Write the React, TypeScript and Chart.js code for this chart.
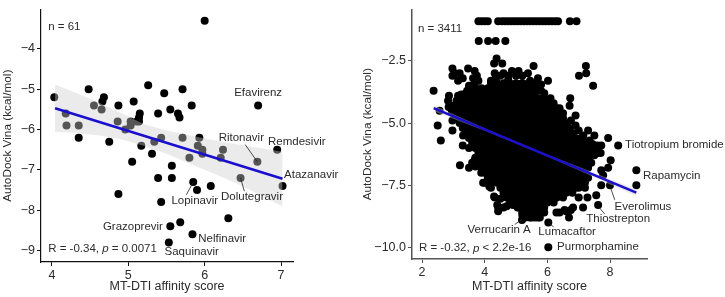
import React, { useEffect, useRef } from "react";
import { Chart, registerables } from "chart.js";

Chart.register(...registerables);

const FONT = "'Liberation Sans', Arial, sans-serif";
const TEXT = "#2b2b2b";

// Left panel
const leftX = [6.0,4.03,4.18,4.19,4.35,4.35,4.48,4.55,4.65,4.68,4.66,4.75,4.87,4.86,4.96,5.03,5.03,5.07,5.11,5.14,5.15,5.17,5.26,5.34,5.43,5.39,5.47,5.55,5.65,5.67,5.71,5.71,5.83,5.93,5.91,5.97,6.24,6.7,6.95,5.31,5.05,5.8,5.97,6.21,6.69,5.57,5.39,5.57,5.85,5.9,6.08,6.47,7.02,4.87,5.43,6.31,5.68,5.55,5.84,5.53,5.14];
const leftY = [-3.3,-5.2,-5.6,-5.9,-5.9,-6.2,-5.0,-5.4,-5.5,-5.2,-5.3,-6.3,-5.4,-5.8,-6.0,-5.9,-5.8,-5.3,-5.8,-5.7,-5.6,-6.4,-4.9,-6.3,-6.2,-5.6,-5.1,-5.5,-5.6,-5.7,-5.0,-6.2,-5.4,-6.2,-6.4,-6.5,-6.5,-5.4,-6.5,-6.6,-6.8,-6.7,-6.6,-6.7,-6.8,-6.9,-7.2,-7.2,-7.3,-7.5,-7.4,-7.2,-7.4,-7.6,-7.8,-8.2,-8.3,-8.4,-8.6,-8.8,-5.8];
const leftBandX = [4.04,4.3,4.6,4.9,5.2,5.5,5.8,6.1,6.4,6.7,7.02];
const leftBandUpper = [-4.88,-5.08,-5.32,-5.58,-5.86,-6.02,-6.14,-6.26,-6.36,-6.45,-6.55];
const leftBandLower = [-6.06,-6.08,-6.14,-6.24,-6.4,-6.6,-6.84,-7.08,-7.32,-7.6,-7.9];
const leftFitX = [4.04,7.02];
const leftFitY = [-5.47,-7.22];
const leftXTicks = [4,5,6,7];
const leftYTicks = [-9,-8,-7,-6,-5,-4];
const leftLabels = [
  { t: "Efavirenz", x: 6.7, y: -5.1, a: "center" },
  { t: "Ritonavir", x: 6.48, y: -6.2, a: "center" },
  { t: "Remdesivir", x: 6.83, y: -6.3, a: "left" },
  { t: "Atazanavir", x: 7.04, y: -7.13, a: "left" },
  { t: "Dolutegravir", x: 6.62, y: -7.67, a: "center" },
  { t: "Lopinavir", x: 5.87, y: -7.77, a: "center" },
  { t: "Grazoprevir", x: 5.06, y: -8.41, a: "center" },
  { t: "Nelfinavir", x: 6.23, y: -8.7, a: "center" },
  { t: "Saquinavir", x: 5.83, y: -9.04, a: "center" },
  { t: "n = 61", x: 3.95, y: -3.44, a: "left" },
];
const leftLeaders = [
  [6.53,-6.37,6.69,-6.8],
  [5.76,-7.62,5.85,-7.3],
  [6.52,-7.53,6.47,-7.2],
];

// Right panel: points (the dense centre is read as rows)
const rightX = [3.8,3.9,4.0,4.1,4.43,4.55,4.65,4.75,4.85,4.95,5.05,5.15,5.25,5.35,5.45,5.55,5.65,5.75,5.85,5.95,6.05,6.15,6.25,6.34,6.72,6.93,3.81,4.11,4.35,4.66,4.38,4.3,4.56,5.56,7.23,7.24,7.01,7.46,2.37,2.97,3.2,2.97,3.15,3.47,3.68,3.63,3.8,3.68,4.32,4.2,4.6,4.87,5.08,5.38,5.7,6.02,5.8,5.8,5.2,4.75,2.86,2.83,3.1,3.44,6.73,6.71,6.9,6.39,6.07,5.86,5.6,2.5,2.6,2.97,2.97,3.3,3.31,2.56,2.95,3.2,7.94,8.26,7.72,7.6,7.3,7.5,7.1,6.9,6.5,3.21,3.5,3.68,8.02,7.94,7.72,7.78,8.84,8.84,7.72,8.0,7.56,7.62,7.28,7.14,6.69,6.29,6.39,6.6,6.82,6.03,6.03,5.19,4.43,4.43,4.32,4.0,4.2,3.89,5.44,5.76,5.9,4.6,5.05,7.4,7.6];
const rightY = [-0.9,-0.9,-0.9,-0.9,-0.9,-0.9,-0.9,-0.9,-0.9,-0.9,-0.9,-0.9,-0.9,-0.9,-0.9,-0.9,-0.9,-0.9,-0.9,-0.9,-0.9,-0.9,-0.9,-0.9,-0.9,-0.9,-1.7,-1.7,-1.7,-1.7,-2.4,-2.6,-2.6,-2.7,-2.7,-3.0,-3.1,-3.5,-3.7,-2.8,-3.0,-3.1,-3.3,-2.8,-2.9,-3.2,-3.3,-3.4,-3.0,-3.3,-3.0,-2.9,-2.9,-3.0,-3.2,-3.3,-3.45,-3.7,-3.4,-3.1,-3.9,-4.1,-4.1,-3.7,-4.0,-4.3,-4.7,-4.4,-4.3,-4.2,-4.2,-5.1,-5.7,-4.9,-5.3,-5.9,-5.5,-4.5,-4.5,-4.6,-5.6,-5.9,-5.9,-5.9,-5.3,-5.5,-5.6,-5.1,-5.2,-6.7,-6.8,-6.5,-6.5,-6.8,-6.9,-7.1,-6.9,-7.5,-7.5,-7.5,-7.9,-8.3,-8.0,-8.4,-8.8,-8.6,-8.6,-8.55,-8.4,-9.0,-10.0,-8.9,-8.55,-8.4,-8.0,-7.4,-7.6,-7.0,-8.8,-8.8,-8.6,-8.4,-8.4,-6.1,-6.2];
const rimX = [3.05,3.3,3.75,4.35,4.5,4.75,5.0,5.2,5.45,5.6,5.65,3.5,3.15,3.0,2.85,3.25,6.5,6.75,6.65,7.0,7.15,7.35,7.1,7.45,7.55,7.5,7.7,3.85,3.7,3.95,4.15,4.3,4.5,4.4,4.7,4.9,5.2,5.25,5.6,6.55,6.75,7.0,7.2];
const rimY = [-3.0,-3.2,-3.1,-3.2,-3.1,-3.25,-3.1,-3.1,-3.3,-3.4,-3.6,-3.5,-3.9,-4.3,-4.35,-3.85,-4.6,-4.9,-5.4,-5.3,-5.5,-5.7,-5.8,-5.85,-6.05,-6.3,-6.2,-6.6,-6.75,-7.4,-7.55,-7.95,-8.05,-8.3,-8.35,-8.3,-8.7,-8.55,-8.8,-8.5,-8.5,-8.0,-7.6];
const cloudRows: [number, number[]][] = [
  [-3.4,[4.2,4.4,4.6,4.8,5.0,5.2,5.4]],
  [-3.6,[3.5,3.7,3.9,4.1,4.3,4.5,4.7,4.9,5.1,5.3,5.5,5.7]],
  [-3.8,[3.4,3.6,3.8,4.0,4.2,4.4,4.6,4.8,5.0,5.2,5.4,5.6,5.9]],
  [-4.0,[3.3,3.5,3.7,3.9,4.1,4.3,4.5,4.7,4.9,5.1,5.3,5.5,5.7,5.9,6.1]],
  [-4.2,[3.2,3.4,3.6,3.8,4.0,4.2,4.4,4.6,4.8,5.0,5.2,5.4,5.6,5.8,6.0,6.2]],
  [-4.4,[3.1,3.3,3.5,3.7,3.9,4.1,4.3,4.5,4.7,4.9,5.1,5.3,5.5,5.7,5.9,6.1,6.3]],
  [-4.6,[3.0,3.2,3.4,3.6,3.8,4.0,4.2,4.4,4.6,4.8,5.0,5.2,5.4,5.6,5.8,6.0,6.2,6.4]],
  [-4.8,[3.1,3.3,3.5,3.7,3.9,4.1,4.3,4.5,4.7,4.9,5.1,5.3,5.5,5.7,5.9,6.1,6.3,6.5]],
  [-5.0,[3.2,3.4,3.6,3.8,4.0,4.2,4.4,4.6,4.8,5.0,5.2,5.4,5.6,5.8,6.0,6.2,6.4,6.6]],
  [-5.2,[3.3,3.5,3.7,3.9,4.1,4.3,4.5,4.7,4.9,5.1,5.3,5.5,5.7,5.9,6.1,6.3,6.5,6.7]],
  [-5.4,[3.4,3.6,3.8,4.0,4.2,4.4,4.6,4.8,5.0,5.2,5.4,5.6,5.8,6.0,6.2,6.4,6.6,6.8]],
  [-5.6,[3.5,3.7,3.9,4.1,4.3,4.5,4.7,4.9,5.1,5.3,5.5,5.7,5.9,6.1,6.3,6.5,6.7,6.9,7.1]],
  [-5.8,[3.6,3.8,4.0,4.2,4.4,4.6,4.8,5.0,5.2,5.4,5.6,5.8,6.0,6.2,6.4,6.6,6.8,7.0,7.2]],
  [-6.0,[3.5,3.7,3.9,4.1,4.3,4.5,4.7,4.9,5.1,5.3,5.5,5.7,5.9,6.1,6.3,6.5,6.7,6.9,7.1,7.3]],
  [-6.2,[3.8,4.0,4.2,4.4,4.6,4.8,5.0,5.2,5.4,5.6,5.8,6.0,6.2,6.4,6.6,6.8,7.0,7.2,7.4]],
  [-6.4,[3.7,3.9,4.1,4.3,4.5,4.7,4.9,5.1,5.3,5.5,5.7,5.9,6.1,6.3,6.5,6.7,6.9,7.1,7.3]],
  [-6.6,[3.6,3.8,4.0,4.2,4.4,4.6,4.8,5.0,5.2,5.4,5.6,5.8,6.0,6.2,6.4,6.6,6.8,7.0,7.2,7.4]],
  [-6.8,[3.9,4.1,4.3,4.5,4.7,4.9,5.1,5.3,5.5,5.7,5.9,6.1,6.3,6.5,6.7,6.9,7.1,7.3]],
  [-7.0,[4.0,4.2,4.4,4.6,4.8,5.0,5.2,5.4,5.6,5.8,6.0,6.2,6.4,6.6,6.8,7.0,7.2]],
  [-7.2,[4.1,4.3,4.5,4.7,4.9,5.1,5.3,5.5,5.7,5.9,6.1,6.3,6.5,6.7,6.9,7.1,7.3]],
  [-7.4,[4.2,4.4,4.6,4.8,5.0,5.2,5.4,5.6,5.8,6.0,6.2,6.4,6.6,6.8,7.0,7.2]],
  [-7.6,[4.5,4.7,4.9,5.1,5.3,5.5,5.7,5.9,6.1,6.3,6.5,6.7,6.9,7.0]],
  [-7.8,[4.6,4.8,5.0,5.2,5.4,5.6,5.8,6.0,6.2,6.4,6.6,6.8]],
  [-8.0,[4.7,4.9,5.1,5.3,5.5,5.7,5.9,6.1,6.3,6.5]],
  [-8.2,[4.8,5.0,5.2,5.4,5.6,5.8,6.0,6.2]],
  [-8.4,[5.1,5.3,5.5,5.7,5.9]],
  [-8.6,[5.2,5.4,5.6,5.8]],
  [-8.8,[5.3,5.5,5.7]],
];
const rightBandX = [2.37,4,5,6,7,8.84];
const rightBandUpper = [-4.28,-5.21,-5.74,-6.27,-6.76,-7.66];
const rightBandLower = [-4.52,-5.31,-5.82,-6.35,-6.9,-7.94];
const rightFitX = [2.37,8.84];
const rightFitY = [-4.4,-7.8];
const rightXTicks = [2,4,6,8];
const rightYTicks = [-10,-7.5,-5,-2.5];
const rightLabels = [
  { t: "n = 3411", x: 1.87, y: -1.22, a: "left" },
  { t: "Tiotropium bromide", x: 8.48, y: -5.88, a: "left" },
  { t: "Rapamycin", x: 9.05, y: -7.14, a: "left" },
  { t: "Everolimus", x: 9.05, y: -8.39, a: "center" },
  { t: "Thiostrepton", x: 8.26, y: -8.86, a: "center" },
  { t: "Verrucarin A", x: 4.46, y: -9.3, a: "center" },
  { t: "Lumacaftor", x: 6.63, y: -9.37, a: "center" },
  { t: "Purmorphamine", x: 6.31, y: -10.0, a: "left" },
];
const rightLeaders = [
  [8.01,-7.57,8.15,-8.09],
  [7.65,-8.39,7.83,-8.66],
  [5.19,-8.88,4.96,-9.08],
  [6.03,-9.01,6.2,-9.18],
];

const cloudPoints = cloudRows.flatMap(([y, xs]) => xs.map((x) => ({ x, y })));
const pairs = (xs: number[], ys: number[]) => xs.map((x, i) => ({ x, y: ys[i] }));

const annotate = (
  labels: { t: string; x: number; y: number; a: string }[],
  leaders: number[][],
  stat: { x: number; y: number; before: string; after: string },
) => ({
  id: "annotate",
  afterDraw(chart: any) {
    const { ctx, scales } = chart;
    const sx = scales.x, sy = scales.y;
    ctx.save();
    ctx.strokeStyle = "#222";
    ctx.lineWidth = 0.8;
    for (const [a, b, c, d] of leaders) {
      ctx.beginPath();
      ctx.moveTo(sx.getPixelForValue(a), sy.getPixelForValue(b));
      ctx.lineTo(sx.getPixelForValue(c), sy.getPixelForValue(d));
      ctx.stroke();
    }
    ctx.fillStyle = TEXT;
    ctx.textBaseline = "middle";
    ctx.font = `11.5px ${FONT}`;
    for (const l of labels) {
      ctx.textAlign = l.a;
      ctx.fillText(l.t, sx.getPixelForValue(l.x), sy.getPixelForValue(l.y));
    }
    ctx.textAlign = "left";
    let px = sx.getPixelForValue(stat.x);
    const py = sy.getPixelForValue(stat.y);
    ctx.fillText(stat.before, px, py);
    px += ctx.measureText(stat.before).width;
    ctx.font = `italic 11.5px ${FONT}`;
    ctx.fillText("p", px, py);
    px += ctx.measureText("p").width;
    ctx.font = `11.5px ${FONT}`;
    ctx.fillText(stat.after, px, py);
    ctx.restore();
  },
});

type Panel = {
  points: { x: number; y: number }[];
  bandX: number[]; upper: number[]; lower: number[];
  fitX: number[]; fitY: number[];
  xTicks: number[]; yTicks: number[];
  xRange: number[]; yRange: number[];
  area: { left: number; bottom: number; top: number; right: number };
  axisColor: string;
  axisWidth: number;
  digits: number;
  plugin: any;
};

function makeChart(canvas: HTMLCanvasElement, p: Panel) {
  const tickFont = { family: FONT, size: 12.5 };
  return new Chart(canvas, {
    type: "scatter",
    data: {
      datasets: [
        { data: pairs(p.fitX, p.fitY), showLine: true, borderColor: "#1a0fd0", borderWidth: 2.5, pointRadius: 0, order: 1, clip: false } as any,
        { data: pairs(p.bandX, p.upper), showLine: true, borderWidth: 0, pointRadius: 0, fill: "+1", backgroundColor: "rgba(207,207,207,0.41)", order: 2, clip: false } as any,
        { data: pairs(p.bandX, p.lower), showLine: true, borderWidth: 0, pointRadius: 0, order: 2, clip: false } as any,
        { data: p.points, pointRadius: 4, pointBackgroundColor: "#000", pointBorderWidth: 0, order: 3, clip: false } as any,
      ],
    },
    options: {
      responsive: false,
      animation: false,
      layout: { padding: { top: p.area.top, right: p.area.right, left: 0, bottom: 0 } },
      plugins: { legend: { display: false }, tooltip: { enabled: false } },
      scales: {
        x: {
          type: "linear",
          min: p.xRange[0], max: p.xRange[1],
          afterBuildTicks: (a: any) => { a.ticks = p.xTicks.map((value) => ({ value })); },
          afterFit: (s: any) => { s.height = canvas.height - p.area.bottom; },
          grid: { drawOnChartArea: false, drawTicks: true, tickLength: 4, tickColor: p.axisColor, tickWidth: 1 },
          border: { color: p.axisColor, width: p.axisWidth },
          ticks: { color: TEXT, font: tickFont, padding: 2, maxRotation: 0, autoSkip: false, callback: (v: any) => String(v) },
          title: { display: true, text: "MT-DTI affinity score", color: TEXT, font: tickFont, padding: { top: 0, bottom: 3 } },
        },
        y: {
          type: "linear",
          min: p.yRange[0], max: p.yRange[1],
          afterBuildTicks: (a: any) => { a.ticks = p.yTicks.map((value) => ({ value })); },
          afterFit: (s: any) => { s.width = p.area.left; },
          grid: { drawOnChartArea: false, drawTicks: true, tickLength: 4, tickColor: p.axisColor, tickWidth: 1 },
          border: { color: p.axisColor, width: p.axisWidth },
          ticks: {
            color: TEXT, font: tickFont, padding: 2, autoSkip: false,
            callback: (v: any) => (Number(v) < 0 ? "\u2212" : "") + Math.abs(Number(v)).toFixed(p.digits),
          },
          title: { display: true, text: "AutoDock Vina (kcal/mol)", color: TEXT, font: { family: FONT, size: 11.8 }, padding: { top: 1, bottom: 0 } },
        },
      },
    } as any,
    plugins: [p.plugin],
  });
}

export default function App() {
  const leftRef = useRef<HTMLCanvasElement>(null);
  const rightRef = useRef<HTMLCanvasElement>(null);
  useEffect(() => {
    const a = makeChart(leftRef.current!, {
      points: pairs(leftX, leftY),
      bandX: leftBandX, upper: leftBandUpper, lower: leftBandLower,
      fitX: leftFitX, fitY: leftFitY,
      xTicks: leftXTicks, yTicks: leftYTicks,
      xRange: [3.856, 7.157], yRange: [-9.286, -3.02],
      area: { left: 41, bottom: 262, top: 6, right: 67 },
      axisColor: "#111", axisWidth: 1.2, digits: 0,
      plugin: annotate(leftLabels, leftLeaders, { x: 3.95, y: -8.95, before: "R = -0.34, ", after: " = 0.0071" }),
    });
    const b = makeChart(rightRef.current!, {
      points: [...pairs(rightX, rightY), ...pairs(rimX, rimY), ...cloudPoints],
      bandX: rightBandX, upper: rightBandUpper, lower: rightBandLower,
      fitX: rightFitX, fitY: rightFitY,
      xTicks: rightXTicks, yTicks: rightYTicks,
      xRange: [1.68, 9.18], yRange: [-10.47, -0.43],
      area: { left: 52, bottom: 259, top: 3, right: 78 },
      axisColor: "#555", axisWidth: 1.5, digits: 1,
      plugin: annotate(rightLabels, rightLeaders, { x: 1.9, y: -10.04, before: "R = -0.32, ", after: " < 2.2e-16" }),
    });
    return () => { a.destroy(); b.destroy(); };
  }, []);
  return (
    <div style={{ position: "absolute", left: 0, top: 0, width: 725, height: 297, background: "#fff" }}>
      <canvas ref={leftRef} width={360} height={297} style={{ position: "absolute", left: 0, top: 0 }} />
      <canvas ref={rightRef} width={365} height={297} style={{ position: "absolute", left: 360, top: 0 }} />
    </div>
  );
}
